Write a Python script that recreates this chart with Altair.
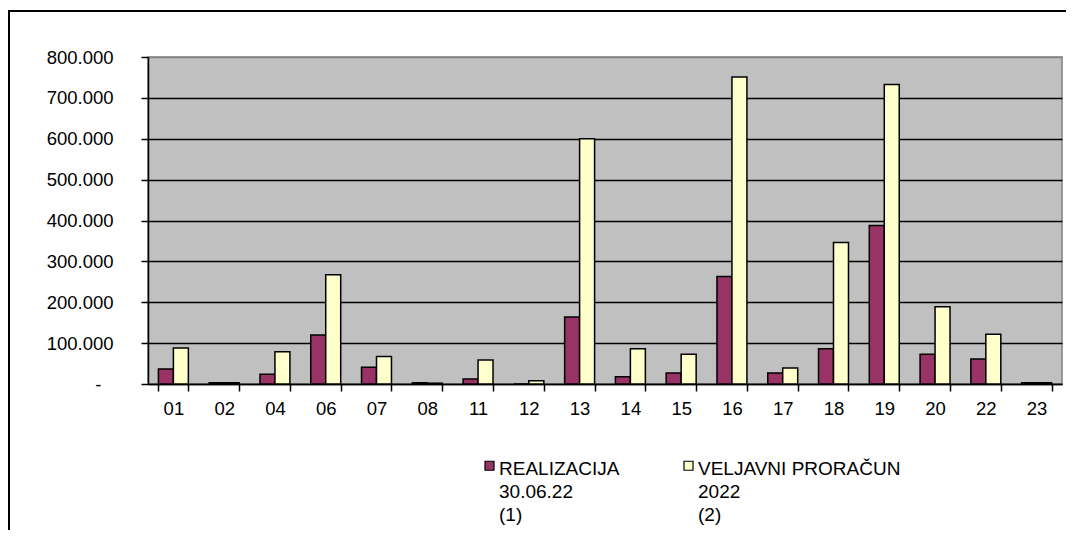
import altair as alt
import pandas as pd

categories = ["01", "02", "04", "06", "07", "08", "11", "12", "13", "14", "15", "16", "17", "18", "19", "20", "22", "23"]
realizacija = [37000, 3000, 24000, 120000, 41000, 3000, 12000, 0, 164000, 18000, 27000, 263000, 27000, 86000, 388000, 73000, 61000, 3000]
proracun = [88000, 3000, 79000, 267000, 67000, 2000, 59000, 8000, 600000, 86000, 73000, 751000, 39000, 346000, 733000, 189000, 122000, 3000]
series_names = ["REALIZACIJA\n30.06.22\n(1)", "VELJAVNI PRORAČUN\n2022\n(2)"]
y_ticks = [0, 100000, 200000, 300000, 400000, 500000, 600000, 700000, 800000]

rows = []
for c, a, b in zip(categories, realizacija, proracun):
    rows.append({"kat": c, "serija": series_names[0], "vrijednost": a})
    rows.append({"kat": c, "serija": series_names[1], "vrijednost": b})
df = pd.DataFrame(rows)

FONT = "Liberation Sans"
AXFS = 18.5

bars = alt.Chart(df).mark_bar(stroke="black", strokeWidth=1.5, opacity=1).encode(
    x=alt.X("kat:N", sort=categories, title=None,
            scale=alt.Scale(paddingInner=0.41, paddingOuter=0.205),
            axis=alt.Axis(labelAngle=0, tickBand="extent", tickSize=7, tickColor="black",
                          domainColor="black", domainWidth=1.5, tickWidth=1.5,
                          labelFontSize=AXFS, labelFont=FONT, labelColor="black",
                          labelPadding=8, grid=False)),
    xOffset=alt.XOffset("serija:N", sort=series_names),
    y=alt.Y("vrijednost:Q", title=None,
            scale=alt.Scale(domain=[0, 800000], nice=False),
            axis=alt.Axis(values=y_ticks, grid=True,
                          gridColor={"condition": {"test": "datum.value == 800000", "value": "#808080"}, "value": "black"},
                          gridWidth=1.5, gridOpacity=1,
                          tickSize=7, tickColor="black", tickWidth=1.5,
                          domainColor="black", domainWidth=1.5,
                          labelFontSize=AXFS, labelFont=FONT, labelColor="black",
                          labelPadding={"condition": {"test": "datum.value == 0", "value": 40}, "value": 28},
                          labelExpr="datum.value == 0 ? '-' : replace(format(datum.value, ','), ',', '.')")),
    color=alt.Color("serija:N", sort=series_names,
                    scale=alt.Scale(domain=series_names, range=["#993366", "#FFFFCC"]),
                    legend=alt.Legend(title=None, orient="none", legendX=332, legendY=393,
                                      direction="horizontal", columns=2, columnPadding=59,
                                      symbolType="M-1,0.33H1V2.33H-1Z", symbolSize=81,
                                      symbolStrokeColor="black",
                                      symbolStrokeWidth=1.2, symbolOpacity=1,
                                      labelFontSize=19, labelFont=FONT, labelColor="black",
                                      labelLimit=300, labelOffset=0, padding=0,
                                      labelBaseline="top",
                                      labelExpr="split(datum.label, '\\n')")),
)

frame = alt.Chart(alt.Data(values=[{}])).mark_rect(
    filled=False, stroke="black", strokeWidth=2, clip=False
).encode(
    x=alt.value(-139), x2=alt.value(940),
    y=alt.value(-46), y2=alt.value(520),
)

chart = alt.layer(frame, bars).properties(
    width=914, height=327,
    autosize=alt.AutoSizeParams(type="none"),
    padding={"left": 140, "top": 49, "right": 4, "bottom": 146},
).configure(
    background="white",
    style={"guide-label": {"lineHeight": 23}},
).configure_view(
    fill="#C0C0C0", stroke="#808080", strokeWidth=1.5
)

chart.save("out.html", embed_options={"renderer": "svg", "actions": False})
